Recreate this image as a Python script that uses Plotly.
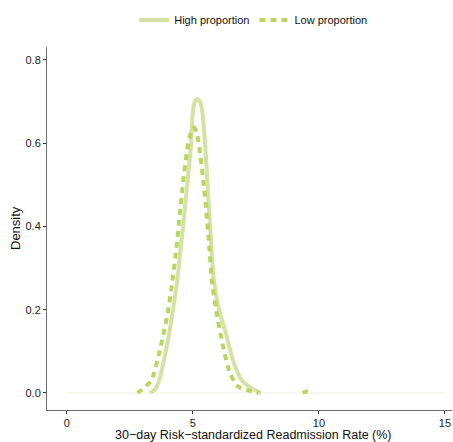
import plotly.graph_objects as go

# High proportion density curve
high_x = [3.3, 3.49, 3.66, 3.96, 4.19, 4.38, 4.52, 4.66, 4.79, 4.92, 4.99, 5.08, 5.17, 5.28, 5.38, 5.49,
          5.57, 5.65, 5.73, 5.83, 6.07, 6.31, 6.44, 6.63, 6.93, 7.33, 7.7]
high_d = [0.0, 0.008, 0.031, 0.111, 0.192, 0.271, 0.351, 0.431, 0.511, 0.591, 0.672, 0.70, 0.706, 0.70, 0.672, 0.591,
          0.511, 0.431, 0.351, 0.271, 0.192, 0.144, 0.111, 0.071, 0.031, 0.011, 0.0]

# Low proportion density curve (None marks the near-zero gap before the small bump near 9.6)
low_x = [2.8, 2.96, 3.36, 3.72, 4.0, 4.19, 4.35, 4.48, 4.62, 4.79, 4.92, 5.05, 5.15, 5.25, 5.41, 5.54,
         5.65, 5.75, 5.94, 6.2, 6.47, 6.8, 7.33, 7.6, None, 9.35, 9.55, 9.75]
low_d = [0.0, 0.007, 0.031, 0.111, 0.192, 0.271, 0.351, 0.431, 0.511, 0.591, 0.625, 0.638, 0.625, 0.591, 0.511, 0.431,
         0.351, 0.271, 0.192, 0.111, 0.047, 0.015, 0.004, 0.0, None, 0.0, 0.004, 0.0]

x_ticks = [0, 5, 10, 15]
y_ticks = [0.0, 0.2, 0.4, 0.6, 0.8]
y_tick_labels = ["0.0", "0.2", "0.4", "0.6", "0.8"]
x_title = "30\u2212day Risk\u2212standardized Readmission Rate (%)"
y_title = "Density"

W, H = 453, 442

fig = go.Figure()
fig.add_trace(go.Scatter(x=high_x, y=high_d, mode="lines", name="High proportion",
                         line=dict(color="#d3e3a3", width=4, shape="spline", smoothing=0.6)))
fig.add_trace(go.Scatter(x=low_x, y=low_d, mode="lines", name="Low proportion", connectgaps=False,
                         line=dict(color="#b8d75c", width=4, dash="6px,5px", shape="spline", smoothing=0.6)))

fig.add_shape(type="line", x0=0, x1=15, y0=0, y1=0, xref="x", yref="y",
              line=dict(color="#eef3de", width=1), layer="below")

axis_common = dict(showgrid=False, zeroline=False, showline=True, linecolor="#6e6e6e", linewidth=1,
                   ticks="outside", ticklen=3, tickcolor="#333333", tickwidth=1, automargin=False,
                   tickfont=dict(size=11, color="#222222"))

fig.add_annotation(text=x_title, xref="paper", yref="paper", x=(253 - 47) / 405, y=-(435 - 410) / 363,
                   xanchor="center", yanchor="middle", showarrow=False, borderpad=0,
                   font=dict(size=12.5, color="#111111"))
fig.add_annotation(text=y_title, xref="paper", yref="paper", x=(15 - 47) / 405, y=(410 - 228) / 363,
                   xanchor="center", yanchor="middle", textangle=-90, showarrow=False,
                   font=dict(size=13, color="#111111"))

fig.update_layout(
    width=W, height=H,
    margin=dict(l=47, r=1, t=47, b=32, autoexpand=False),
    paper_bgcolor="white", plot_bgcolor="white",
    font=dict(family="Liberation Sans, Arial, sans-serif", color="#111111"),
    legend=dict(orientation="h", xref="container", yref="container", x=0.559, xanchor="center",
                y=1 - 20 / H, yanchor="middle",
                font=dict(size=11), itemwidth=30, tracegroupgap=0),
    xaxis=dict(range=[-0.79, 15.28], tickvals=x_ticks, ticktext=[str(v) for v in x_ticks], **axis_common),
    yaxis=dict(range=[-0.041, 0.831], tickvals=y_ticks, ticktext=y_tick_labels, **axis_common),
)

fig.write_html("out.html", config={"displayModeBar": False},
               post_script="document.body.style.margin='0';document.body.style.overflow='hidden';")
